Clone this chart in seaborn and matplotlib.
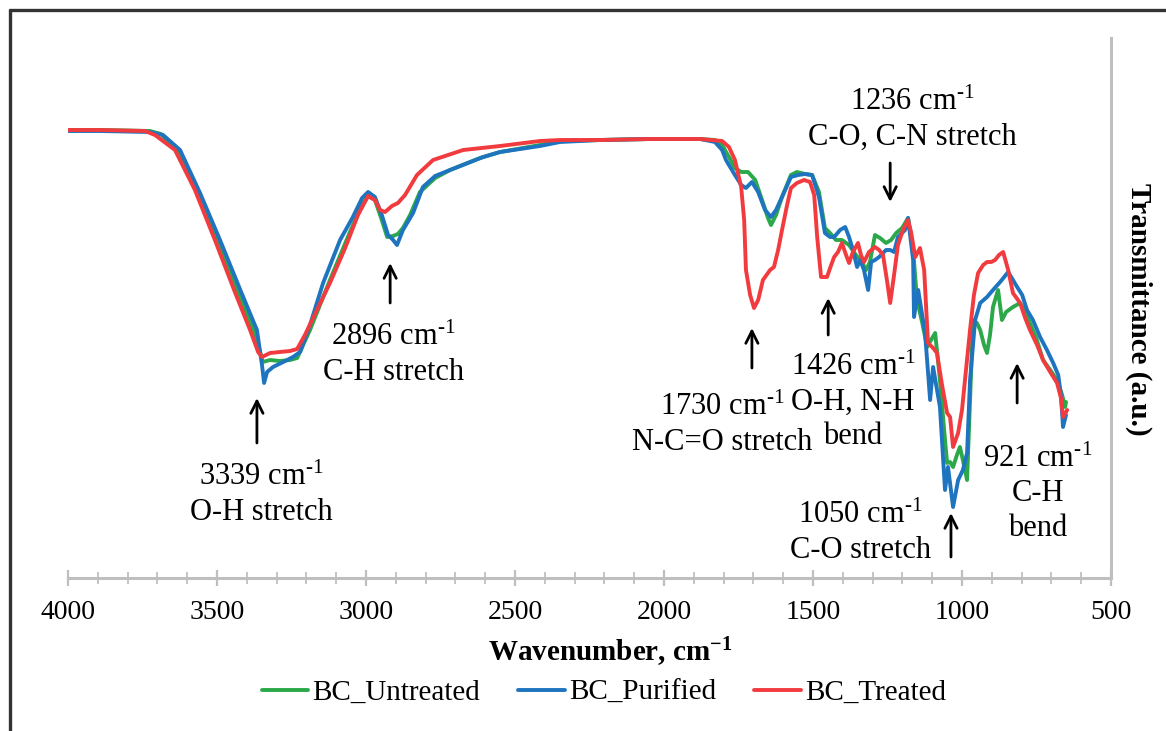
import matplotlib
matplotlib.use("Agg")
import matplotlib.pyplot as plt
from matplotlib.lines import Line2D
from matplotlib.ticker import MultipleLocator
import seaborn as sns

# ---------------- data ----------------
series_names = ["BC_Untreated", "BC_Purified", "BC_Treated"]

wn_untreated = [4000, 3893, 3725, 3688, 3624, 3557, 3490, 3423, 3372, 3346, 3322, 3289, 3255, 3231,
                3211, 3188, 3121, 3054, 3013, 2993, 2970, 2947, 2929, 2909, 2893, 2876, 2852, 2819,
                2768, 2718, 2617, 2550, 2416, 2349, 2215, 2047, 1879, 1829, 1805, 1782, 1762, 1741,
                1718, 1694, 1671, 1651, 1641, 1624, 1604, 1574, 1554, 1527, 1503, 1480, 1460, 1443,
                1423, 1403, 1379, 1356, 1336, 1322, 1309, 1292, 1275, 1255, 1238, 1221, 1201, 1181,
                1164, 1151, 1134, 1117, 1104, 1090, 1074, 1060, 1050, 1040, 1030, 1017, 1007, 997,
                983, 973, 963, 950, 939, 926, 916, 906, 896, 879, 866, 852, 829, 805, 788, 772, 751,
                728, 704, 681, 664, 654, 651]
t_untreated = [89.6, 89.6, 89.4, 88.8, 84.6, 75.6, 66.0, 56.4, 48.6, 43.2, 43.6, 43.4, 43.6, 44.0,
               46.6, 49.6, 59.6, 69.2, 74.6, 76.4, 75.6, 71.6, 68.2, 68.4, 68.8, 70.0, 72.6, 77.2,
               80.0, 81.6, 84.0, 85.2, 86.6, 87.4, 87.6, 87.8, 87.8, 87.6, 86.6, 84.2, 82.0, 81.2,
               81.2, 79.6, 75.6, 72.0, 70.6, 72.6, 76.2, 80.6, 81.2, 80.8, 80.6, 77.2, 70.0, 69.0,
               67.6, 67.6, 66.6, 64.6, 63.2, 61.6, 63.2, 68.6, 68.0, 67.0, 67.6, 69.0, 70.0, 72.0,
               65.6, 55.6, 51.2, 46.2, 47.6, 49.0, 39.6, 29.6, 23.0, 23.2, 22.2, 24.6, 26.2, 23.6,
               19.6, 35.6, 51.6, 51.0, 49.6, 46.6, 45.0, 48.6, 54.2, 57.6, 51.6, 53.2, 54.2, 55.0,
               53.2, 51.0, 48.0, 43.6, 41.6, 39.6, 36.6, 34.2, 35.2]

wn_purified = [4000, 3893, 3725, 3681, 3624, 3557, 3490, 3419, 3366, 3349, 3342, 3332, 3312, 3278,
               3245, 3221, 3188, 3144, 3087, 3044, 3013, 2993, 2970, 2947, 2926, 2909, 2896, 2876,
               2842, 2809, 2768, 2718, 2607, 2550, 2416, 2349, 2215, 2047, 1879, 1829, 1805, 1792,
               1762, 1741, 1725, 1705, 1684, 1661, 1641, 1624, 1604, 1574, 1550, 1527, 1503, 1480,
               1460, 1443, 1429, 1409, 1392, 1379, 1366, 1352, 1342, 1329, 1315, 1305, 1292, 1278,
               1255, 1241, 1228, 1215, 1191, 1181, 1164, 1161, 1147, 1124, 1107, 1097, 1074, 1057,
               1047, 1030, 1013, 997, 983, 973, 956, 939, 916, 896, 872, 845, 829, 815, 798, 782,
               762, 738, 715, 694, 677, 668, 661, 651]
t_purified = [89.4, 89.4, 89.2, 88.6, 85.6, 77.0, 67.6, 57.2, 49.6, 42.6, 39.0, 41.2, 42.2, 43.2,
              44.2, 45.2, 50.6, 59.0, 67.6, 72.2, 76.0, 77.2, 76.2, 72.6, 68.6, 67.6, 66.6, 69.6,
              73.0, 78.2, 80.4, 81.6, 84.2, 85.2, 86.4, 87.2, 87.6, 87.8, 87.8, 87.2, 85.6, 83.6,
              80.6, 78.6, 78.0, 79.2, 77.2, 73.6, 72.2, 73.6, 76.2, 80.2, 80.6, 80.8, 80.6, 76.2,
              69.0, 68.2, 68.2, 69.6, 70.2, 68.2, 65.6, 62.2, 63.6, 61.6, 57.6, 63.2, 63.6, 64.2,
              65.6, 65.6, 65.2, 68.2, 69.6, 72.0, 63.6, 52.2, 57.6, 49.0, 35.6, 42.2, 34.2, 17.6,
              22.2, 14.2, 19.6, 21.6, 25.0, 39.6, 51.6, 55.0, 56.2, 57.6, 59.2, 61.2, 59.6, 58.2,
              56.6, 53.6, 51.6, 48.2, 45.6, 43.0, 40.6, 36.6, 30.2, 32.6]

wn_treated = [4000, 3893, 3742, 3708, 3641, 3574, 3507, 3440, 3389, 3362, 3349, 3322, 3289, 3255,
              3231, 3205, 3121, 3070, 3027, 2993, 2970, 2953, 2936, 2913, 2893, 2869, 2829, 2775,
              2674, 2550, 2416, 2349, 2215, 2047, 1879, 1805, 1782, 1762, 1741, 1731, 1725, 1711,
              1698, 1684, 1668, 1644, 1631, 1617, 1604, 1587, 1574, 1554, 1530, 1510, 1496, 1486,
              1473, 1453, 1439, 1429, 1416, 1403, 1389, 1379, 1366, 1349, 1339, 1329, 1312, 1292,
              1278, 1265, 1252, 1241, 1228, 1215, 1198, 1181, 1171, 1157, 1141, 1127, 1114, 1097,
              1084, 1067, 1050, 1040, 1030, 1013, 1000, 990, 973, 960, 946, 929, 916, 902, 889,
              876, 862, 845, 829, 805, 788, 772, 748, 728, 704, 681, 668, 661, 647]
t_treated = [89.6, 89.6, 89.4, 88.6, 85.6, 77.6, 67.6, 57.2, 49.6, 45.2, 44.2, 45.0, 45.2, 45.4,
             45.8, 48.6, 59.0, 66.0, 72.6, 76.4, 75.6, 73.6, 73.2, 74.4, 75.0, 76.6, 80.6, 83.6,
             85.6, 86.4, 87.4, 87.6, 87.6, 87.8, 87.8, 87.4, 86.2, 83.6, 78.2, 71.6, 61.6, 56.6,
             54.0, 55.6, 59.6, 61.6, 62.2, 65.6, 69.6, 74.6, 78.0, 79.0, 79.6, 79.2, 76.6, 68.2,
             60.2, 60.2, 62.6, 64.2, 65.2, 67.0, 64.6, 63.0, 65.2, 67.0, 64.6, 63.2, 65.2, 66.2,
             65.6, 64.6, 59.6, 55.0, 60.6, 66.6, 69.6, 71.6, 69.2, 64.2, 66.0, 61.6, 47.0, 46.0,
             45.0, 38.6, 33.0, 32.2, 26.2, 29.0, 33.6, 39.6, 49.6, 56.6, 61.0, 62.6, 63.2, 63.2,
             63.6, 64.6, 65.2, 61.6, 57.0, 55.0, 52.0, 49.6, 46.6, 43.6, 41.2, 39.0, 36.0, 32.2, 33.6]

x_ticks = [4000, 3500, 3000, 2500, 2000, 1500, 1000, 500]

SUP = "$^{\\text{-1}}$"
# annotations: label lines, text anchor (wavenumber, transmittance), arrow x, arrow tail y, arrow head y
ann_labels = [["3339 cm" + SUP, "O-H stretch"],
              ["2896 cm" + SUP, "C-H stretch"],
              ["1730 cm" + SUP, "N-C=O stretch"],
              ["1426 cm" + SUP, "O-H, N-H", "bend"],
              ["1236 cm" + SUP, "C-O, C-N stretch"],
              ["1050 cm" + SUP, "C-O stretch"],
              ["921 cm" + SUP, "C-H", "bend"]]
ann_text_wn = [3352, 2909, 1805, 1366, 1168, 1342, 745]
ann_text_t = [16.6, 44.6, 30.6, 35.2, 91.6, 9.0, 16.8]
arrow_wn = [3366, 2919, 1705, 1449, 1241, 1037, 815]
arrow_tail = [27.0, 55.0, 42.0, 48.6, 83.0, 4.2, 35.0]
arrow_head = [36.0, 63.0, 50.0, 56.0, 75.2, 13.0, 43.0]
LINE_STEP_PT = 25.0

# ---------------- style ----------------
sns.set_theme(style="white")
plt.rcParams["font.family"] = ["Liberation Serif", "DejaVu Serif"]
plt.rcParams["mathtext.fontset"] = "custom"
plt.rcParams["mathtext.rm"] = "Liberation Serif"
plt.rcParams["mathtext.it"] = "Liberation Serif:italic"
plt.rcParams["mathtext.bf"] = "Liberation Serif:bold"
plt.rcParams["text.color"] = "black"
plt.rcParams["axes.labelcolor"] = "black"

colors = ["#2BA84A", "#1F74C0", "#F23B3E"]
axis_gray = "#BFBFBF"

fig = plt.figure(figsize=(11.66, 7.31), dpi=100)
ax = fig.add_axes([68 / 1166, 1 - 578 / 731, (1111 - 68) / 1166, (578 - 38) / 731])

for name, wn, tv, c in zip(series_names,
                           [wn_untreated, wn_purified, wn_treated],
                           [t_untreated, t_purified, t_treated], colors):
    sns.lineplot(x=wn, y=tv, sort=False, estimator=None, color=c, lw=2.8,
                 label=name, ax=ax)

ax.set_xlim(4000, 500)
ax.set_ylim(0, 108)
ax.set_xticks(x_ticks)
ax.xaxis.set_minor_locator(MultipleLocator(100))
ax.set_yticks([])

for s in ["top", "left"]:
    ax.spines[s].set_visible(False)
for s in ["bottom", "right"]:
    ax.spines[s].set_visible(True)
    ax.spines[s].set_color(axis_gray)
    ax.spines[s].set_linewidth(2.2)

ax.tick_params(axis="x", which="major", direction="inout", length=12, width=1.6,
               color=axis_gray, labelsize=20, pad=10, labelcolor="black", bottom=True)
ax.tick_params(axis="x", which="minor", direction="inout", length=9, width=1.3,
               color=axis_gray, bottom=True)

ax.set_xlabel("Wavenumber, cm$^{\\mathbf{-1}}$", fontsize=21, fontweight="bold", color="black")
ax.xaxis.set_label_coords((610 - 68) / 1043, -(652 - 578) / 540)
ax.xaxis.label.set_va("center")

ax.yaxis.set_label_position("right")
ax.set_ylabel("Transmittance (a.u.)", fontsize=21, fontweight="bold", rotation=270,
              color="black")
ax.yaxis.set_label_coords((1139 - 68) / 1043, (578 - 309) / 540)
ax.yaxis.label.set_va("center")
ax.yaxis.label.set_ha("center")

for lines, tx, ty, axx, atail, ahead in zip(ann_labels, ann_text_wn, ann_text_t,
                                           arrow_wn, arrow_tail, arrow_head):
    n = len(lines)
    for i, line in enumerate(lines):
        off = ((n - 1) / 2 - i) * LINE_STEP_PT
        ax.annotate(line, xy=(tx, ty), xytext=(0, off), textcoords="offset points",
                    ha="center", va="center", fontsize=22, color="black")
    ax.annotate("", xy=(axx, ahead), xytext=(axx, atail),
                arrowprops=dict(arrowstyle="->", color="black", lw=2.0,
                                shrinkA=0, shrinkB=0, mutation_scale=22))

leg = ax.legend(loc="center", bbox_to_anchor=(604 / 1166, 1 - 693 / 731),
                bbox_transform=fig.transFigure, ncol=3, frameon=False, fontsize=21,
                handlelength=1.6, handletextpad=0.15, columnspacing=1.3)
for t in leg.get_texts():
    t.set_color("black")

# outer frame (left and top edges visible)
fig.add_artist(Line2D([9.5 / 1166, 9.5 / 1166], [0, 1 - 10 / 731], transform=fig.transFigure,
                      color="#333333", lw=2.4))
fig.add_artist(Line2D([9.5 / 1166, 1.0], [1 - 10 / 731, 1 - 10 / 731], transform=fig.transFigure,
                      color="#333333", lw=2.4))

fig.savefig("out.png", dpi=100, facecolor="white")
